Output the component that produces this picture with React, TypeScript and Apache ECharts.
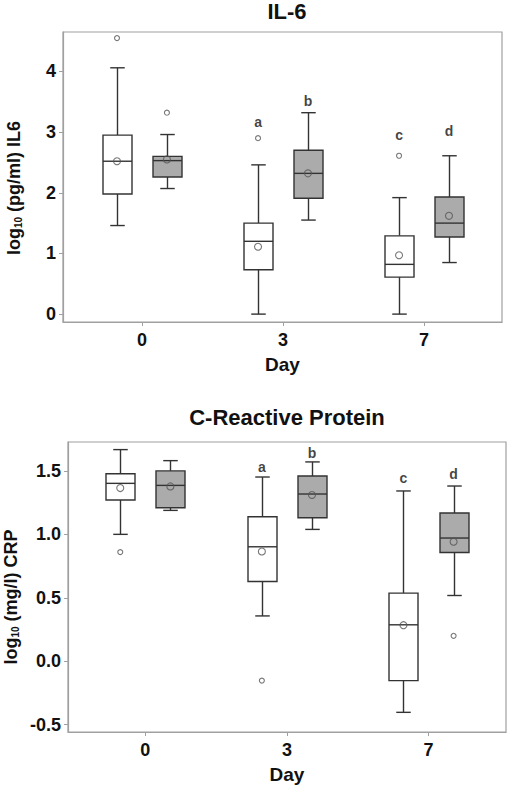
import React, { useEffect, useRef } from "react";
import * as echarts from "echarts";

// ---- data ----
const days = ["0", "3", "7"];

// [low whisker, Q1, median, Q3, high whisker]
const il6White = [
  [1.46, 1.98, 2.52, 2.95, 4.06],
  [0.0, 0.73, 1.2, 1.5, 2.46],
  [0.0, 0.61, 0.82, 1.29, 1.92],
];
const il6Gray = [
  [2.07, 2.26, 2.53, 2.6, 2.96],
  [1.55, 1.91, 2.32, 2.7, 3.32],
  [0.85, 1.27, 1.5, 1.93, 2.61],
];
const il6WhiteMean = [2.52, 1.11, 0.97];
const il6GrayMean = [2.55, 2.32, 1.62];
const il6WhiteOut = [[0, 4.55], [1, 2.9], [2, 2.61]];
const il6GrayOut = [[0, 3.32]];
// [day index, group (0 white / 1 gray), letter, value]
const il6Letters: [number, number, string, number][] = [
  [1, 0, "a", 3.16],
  [1, 1, "b", 3.52],
  [2, 0, "c", 2.95],
  [2, 1, "d", 3.01],
];
const il6Ticks = [0, 1, 2, 3, 4];

const crpWhite = [
  [1.0, 1.271, 1.402, 1.478, 1.668],
  [0.357, 0.628, 0.902, 1.139, 1.452],
  [-0.403, -0.153, 0.287, 0.537, 1.342],
];
const crpGray = [
  [1.189, 1.21, 1.386, 1.5, 1.581],
  [1.039, 1.131, 1.318, 1.46, 1.571],
  [0.518, 0.857, 0.971, 1.168, 1.381],
];
const crpWhiteMean = [1.365, 0.865, 0.284];
const crpGrayMean = [1.378, 1.31, 0.942];
const crpWhiteOut = [[0, 0.86], [1, -0.153]];
const crpGrayOut = [[2, 0.2]];
const crpLetters: [number, number, string, number][] = [
  [1, 0, "a", 1.528],
  [1, 1, "b", 1.642],
  [2, 0, "c", 1.441],
  [2, 1, "d", 1.476],
];
const crpTicks = [-0.5, 0, 0.5, 1, 1.5];

// ---- styling ----
const FONT = "Liberation Sans, Arial, Helvetica, sans-serif";
const OFFSET = 0.177;
const BOX_W = 29;
const LINE = "#333333";
const AXIS = "#a0a0a0";
const GRAY_FILL = "#ababab";

function boxSeries(data: number[][], group: number, fill: string, idx: number) {
  return {
    type: "custom",
    xAxisIndex: idx,
    yAxisIndex: idx,
    data: data.map((d, i) => [i + (group ? OFFSET : -OFFSET), ...d]),
    z: 2,
    renderItem: (params: any, api: any) => {
      const x = api.value(0);
      const lo = api.coord([x, api.value(1)]);
      const q1 = api.coord([x, api.value(2)]);
      const med = api.coord([x, api.value(3)]);
      const q3 = api.coord([x, api.value(4)]);
      const hi = api.coord([x, api.value(5)]);
      const cx = Math.round(lo[0]) + 0.5;
      const hw = BOX_W / 2;
      const cap = BOX_W / 4;
      const ls = { stroke: LINE, lineWidth: 1.4 };
      return {
        type: "group",
        children: [
          { type: "line", shape: { x1: cx, y1: hi[1], x2: cx, y2: q3[1] }, style: ls },
          { type: "line", shape: { x1: cx, y1: q1[1], x2: cx, y2: lo[1] }, style: ls },
          { type: "line", shape: { x1: cx - cap, y1: hi[1], x2: cx + cap, y2: hi[1] }, style: ls },
          { type: "line", shape: { x1: cx - cap, y1: lo[1], x2: cx + cap, y2: lo[1] }, style: ls },
          {
            type: "rect",
            shape: { x: cx - hw, y: q3[1], width: BOX_W, height: q1[1] - q3[1] },
            style: { fill, stroke: LINE, lineWidth: 1.4 },
          },
          { type: "line", shape: { x1: cx - hw, y1: med[1], x2: cx + hw, y2: med[1] }, style: ls },
        ],
      };
    },
  };
}

function pointSeries(pts: number[][], group: number, size: number, idx: number) {
  return {
    type: "scatter",
    xAxisIndex: idx,
    yAxisIndex: idx,
    symbol: "circle",
    symbolSize: size,
    z: 5,
    itemStyle: { color: "rgba(0,0,0,0)", borderColor: "#555", borderWidth: 1.1 },
    data: pts.map((p) => [p[0] + (group ? OFFSET : -OFFSET), p[1]]),
  };
}

function meanPoints(means: number[]) {
  return means.map((m, i) => [i, m]);
}

function letterSeries(letters: [number, number, string, number][], idx: number) {
  return {
    type: "scatter",
    xAxisIndex: idx,
    yAxisIndex: idx,
    symbolSize: 0,
    z: 6,
    data: letters.map((l) => ({
      value: [l[0] + (l[1] ? OFFSET : -OFFSET), l[3]],
      name: l[2],
    })),
    label: {
      show: true,
      position: "inside",
      formatter: (p: any) => p.name,
      color: "#111",
      fontFamily: FONT,
      fontWeight: "bold",
      fontSize: 14,
    },
  };
}

function xAxis(idx: number, min: number, max: number) {
  return {
    type: "value",
    gridIndex: idx,
    min,
    max,
    name: "Day",
    nameLocation: "middle",
    nameGap: 33,
    nameTextStyle: { color: "#111", fontFamily: FONT, fontWeight: "bold", fontSize: 19 },
    splitLine: { show: false },
    axisLine: { show: true, onZero: false, lineStyle: { color: AXIS, width: 1.2 } },
    axisTick: { show: true, length: 4, lineStyle: { color: AXIS }, customValues: [0, 1, 2] },
    axisLabel: {
      customValues: [0, 1, 2],
      formatter: (v: number) => days[Math.round(v)] ?? "",
      color: "#111",
      fontFamily: FONT,
      fontWeight: "bold",
      fontSize: 18,
      margin: 9,
    },
  };
}

function yAxis(idx: number, min: number, max: number, ticks: number[], fmt: (v: number) => string) {
  return {
    type: "value",
    gridIndex: idx,
    min,
    max,
    splitLine: { show: false },
    axisLine: { show: true, onZero: false, lineStyle: { color: AXIS, width: 1.2 } },
    axisTick: { show: true, length: 4, lineStyle: { color: AXIS }, customValues: ticks },
    axisLabel: {
      customValues: ticks,
      formatter: fmt,
      color: "#111",
      fontFamily: FONT,
      fontWeight: "bold",
      fontSize: 18,
      margin: 7,
    },
  };
}

function yTitle(x: number, y: number, unit: string) {
  return {
    type: "text",
    x,
    y,
    rotation: Math.PI / 2,
    style: {
      text: `{n|log}{s|10}{n| ${unit}}`,
      align: "center",
      verticalAlign: "middle",
      rich: {
        n: { fontFamily: FONT, fontWeight: "bold", fontSize: 18, fill: "#111", verticalAlign: "middle" },
        s: {
          fontFamily: FONT,
          fontWeight: "bold",
          fontSize: 10,
          fill: "#111",
          verticalAlign: "bottom",
          padding: [8, 0, 0, 0],
        },
      },
    },
  };
}

export default function App() {
  const ref = useRef<HTMLDivElement>(null);
  useEffect(() => {
    if (!ref.current) return;
    const chart = echarts.init(ref.current, undefined, { renderer: "svg" });
    chart.setOption({
      animation: false,
      backgroundColor: "#fff",
      grid: [
        { left: 63, top: 32, width: 439, height: 290, show: true, borderColor: AXIS, borderWidth: 1.2, backgroundColor: "transparent" },
        { left: 68, top: 442, width: 438, height: 290, show: true, borderColor: AXIS, borderWidth: 1.2, backgroundColor: "transparent" },
      ],
      xAxis: [xAxis(0, -0.56, 2.553), xAxis(1, -0.546, 2.547)],
      yAxis: [
        yAxis(0, -0.13, 4.65, il6Ticks, (v) => String(v)),
        yAxis(1, -0.558, 1.728, crpTicks, (v) => v.toFixed(1)),
      ],
      graphic: [
        {
          type: "text",
          x: 287,
          y: 11,
          style: { text: "IL-6", font: `bold 22px ${FONT}`, fill: "#111", align: "center", verticalAlign: "middle" },
        },
        {
          type: "text",
          x: 287,
          y: 417,
          style: { text: "C-Reactive Protein", font: `bold 22px ${FONT}`, fill: "#111", align: "center", verticalAlign: "middle" },
        },
        yTitle(14, 188, "(pg/ml) IL6"),
        yTitle(11, 597, "(mg/l) CRP"),
      ],
      series: [
        boxSeries(il6White, 0, "#ffffff", 0),
        boxSeries(il6Gray, 1, GRAY_FILL, 0),
        pointSeries(meanPoints(il6WhiteMean), 0, 7, 0),
        pointSeries(meanPoints(il6GrayMean), 1, 7, 0),
        pointSeries(il6WhiteOut, 0, 5, 0),
        pointSeries(il6GrayOut, 1, 5, 0),
        letterSeries(il6Letters, 0),
        boxSeries(crpWhite, 0, "#ffffff", 1),
        boxSeries(crpGray, 1, GRAY_FILL, 1),
        pointSeries(meanPoints(crpWhiteMean), 0, 7, 1),
        pointSeries(meanPoints(crpGrayMean), 1, 7, 1),
        pointSeries(crpWhiteOut, 0, 5, 1),
        pointSeries(crpGrayOut, 1, 5, 1),
        letterSeries(crpLetters, 1),
      ],
    });
    return () => chart.dispose();
  }, []);
  return (
    <div
      ref={ref}
      style={{ position: "absolute", left: 0, top: 0, width: 507, height: 785 }}
    />
  );
}
